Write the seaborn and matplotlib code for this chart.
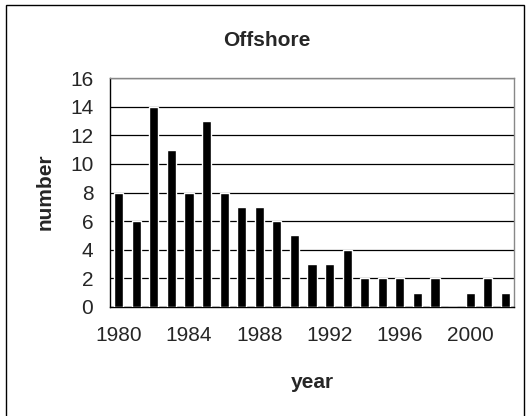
import matplotlib
matplotlib.use("Agg")
import matplotlib.pyplot as plt
import seaborn as sns
import pandas as pd
import numpy as np
from matplotlib.patches import Rectangle

years = list(range(1980, 2003))
counts = [8, 6, 14, 11, 8, 13, 8, 7, 7, 6, 5, 3, 3, 4, 2, 2, 2, 1, 2, 0, 1, 2, 1]
title = "Offshore"
xlabel = "year"
ylabel = "number"

df = pd.DataFrame({"year": [str(y) for y in years], "count": counts})

sns.set_style("white")
plt.rcParams["font.family"] = ["Liberation Sans", "DejaVu Sans"]

W, H = 530, 416
fig = plt.figure(figsize=(W / 100, H / 100), dpi=100)
fig.patch.set_facecolor("white")
# outer chart border
fig.patches.append(Rectangle((6 / W, -0.05), (524 - 6) / W, (1 - 5 / H) + 0.05,
                             transform=fig.transFigure, fill=False,
                             edgecolor="black", linewidth=1.0))

L, R, T, B = 110, 514, 78, 307
ax = fig.add_axes([L / W, 1 - B / H, (R - L) / W, (B - T) / H])
sns.barplot(data=df, x="year", y="count", color="black", width=0.52,
            saturation=1, ax=ax, zorder=3)

ax.set_ylim(0, 16)
ax.set_xlim(-0.5, len(years) - 0.5)
ax.set_yticks(range(0, 17, 2))
ax.yaxis.grid(True, color="black", linewidth=0.9, zorder=0)
ax.set_axisbelow(True)

fs = 15
# x ticks: labels every 4 years, tick marks at category boundaries
ax.set_xticks(range(0, len(years), 4))
ax.set_xticklabels([str(years[i]) for i in range(0, len(years), 4)])
ax.set_xticks(np.arange(-0.5, len(years), 1.0), minor=True)
ax.tick_params(axis="x", which="major", length=0, pad=14, labelsize=fs)
ax.tick_params(axis="x", which="minor", length=4, width=0.9, direction="out", color="black")
ax.tick_params(axis="y", length=4, width=0.9, direction="out", color="black", labelsize=fs, pad=8)

for s in ["left", "bottom"]:
    ax.spines[s].set_color("black")
    ax.spines[s].set_linewidth(1.0)
ax.spines["right"].set_color("#888888")
ax.spines["top"].set_color("#888888")
ax.spines["right"].set_linewidth(1.0)
ax.spines["top"].set_linewidth(1.0)

ax.set_xlabel(xlabel, fontsize=fs, fontweight="bold", va="center")
ax.xaxis.set_label_coords((312 - L) / (R - L), (B - 382) / (B - T))
ax.set_ylabel(ylabel, fontsize=fs, fontweight="bold", va="center")
ax.yaxis.set_label_coords((45 - L) / (R - L), (B - 192) / (B - T))
fig.text(267 / W, 1 - 41 / H, title, ha="center", va="center",
         fontsize=fs, fontweight="bold")

fig.savefig("out.png", dpi=100, facecolor="white")
